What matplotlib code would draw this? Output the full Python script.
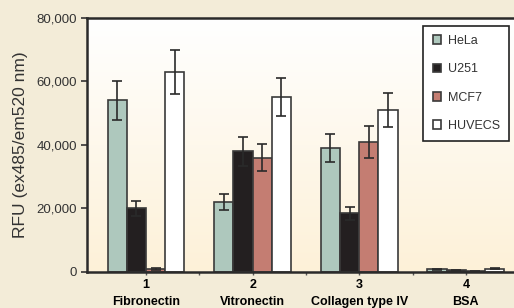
import numpy as np
import matplotlib
matplotlib.use("Agg")
import matplotlib.pyplot as plt
from matplotlib.colors import LinearSegmentedColormap
from matplotlib.ticker import FuncFormatter

plt.rcParams['font.family'] = ['Liberation Sans', 'DejaVu Sans']

groups = ["1\nFibronectin", "2\nVitronectin", "3\nCollagen type IV", "4\nBSA"]
series = ["HeLa", "U251", "MCF7", "HUVECS"]
hela = [54000, 22000, 39000, 800]
u251 = [20000, 38000, 18500, 500]
mcf7 = [800, 36000, 41000, 200]
huvecs = [63000, 55000, 51000, 1000]
hela_err = [6000, 2500, 4300, 200]
u251_err = [2300, 4500, 2000, 150]
mcf7_err = [300, 4200, 5000, 100]
huvecs_err = [7000, 6000, 5500, 200]
yticks = [0, 20000, 40000, 60000, 80000]

values = [hela, u251, mcf7, huvecs]
errors = [hela_err, u251_err, mcf7_err, huvecs_err]
colors = ["#aec8bd", "#231f20", "#c47d72", "#ffffff"]

fig = plt.figure(figsize=(5.14, 3.08), dpi=100)
fig.patch.set_facecolor("#f3ecd8")
ax = fig.add_axes([0.169, 0.117, 0.831 + 0.01, 0.825])
ax.set_facecolor("none")

# gradient background
cmap = LinearSegmentedColormap.from_list("bg", ["#fdf1d8", "#ffffff"])
grad = np.linspace(0, 1, 256).reshape(-1, 1)
ax.imshow(grad, cmap=cmap, aspect="auto", origin="lower",
          extent=[0, 1, 0, 1], transform=ax.transAxes, zorder=0)

x = np.arange(1, len(groups) + 1)
w = 0.18
offsets = [-1.5, -0.5, 0.5, 1.5]
for vals, errs, col, off, name in zip(values, errors, colors, offsets, series):
    ax.bar(x + off * w, vals, width=w, color=col, edgecolor="#3a3a3a",
           linewidth=1.2, label=name, zorder=2)
    ax.errorbar(x + off * w, vals, yerr=errs, fmt="none", ecolor="#2a2a2a",
                elinewidth=1.2, capsize=3.5, capthick=1.2, zorder=3)

ax.set_xlim(0.445, 4.40)
ax.set_ylim(0, 80000)
ax.set_yticks(yticks)
ax.yaxis.set_major_formatter(FuncFormatter(lambda v, p: f"{int(v):,}"))
ax.set_xticks(x)
ax.set_xticklabels(groups, fontweight="bold", fontsize=9, linespacing=1.55)
ax.set_xticks(x + 0.5, minor=True)
ax.tick_params(axis="x", which="both", length=2, width=1, color="#555555", pad=3)
ax.tick_params(axis="y", length=4, width=1.2, color="#333333", labelsize=9.5,
               labelcolor="#333333", pad=3)

for s in ["left", "bottom", "top"]:
    ax.spines[s].set_linewidth(1.8)
    ax.spines[s].set_color("#2a2a2a")
ax.spines["right"].set_visible(False)

ax.set_ylabel("RFU (ex485/em520 nm)", fontsize=12.5, color="#333333", labelpad=6)

leg = ax.legend(loc="upper right", bbox_to_anchor=(0.977, 0.9685), fontsize=9,
                frameon=True, fancybox=False, edgecolor="#222222",
                handlelength=0.7, handleheight=0.7, labelspacing=1.3,
                borderpad=0.75, handletextpad=0.5, borderaxespad=0)
leg.get_frame().set_linewidth(1.2)
leg.get_frame().set_facecolor("white")
leg.get_frame().set_alpha(1)
for t in leg.get_texts():
    t.set_color("#333333")

fig.savefig("out.png", dpi=100, facecolor=fig.get_facecolor())
